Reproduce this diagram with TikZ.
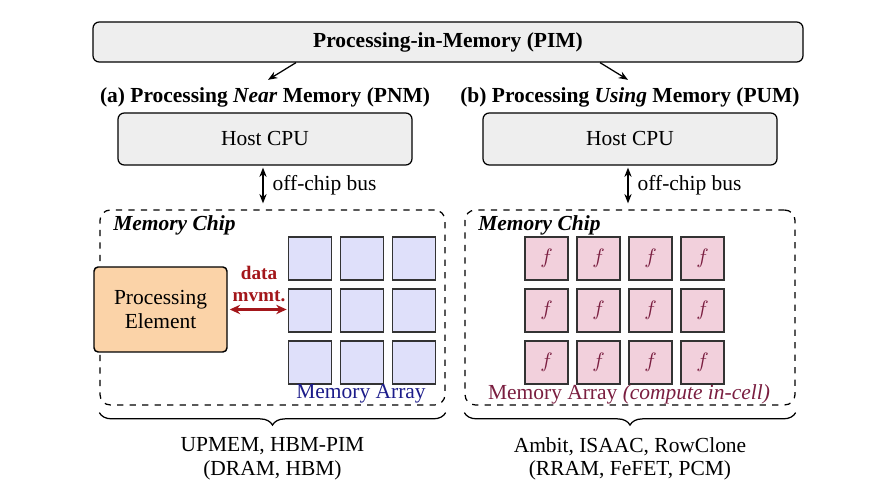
\documentclass[tikz,border=0pt]{standalone}
\usepackage{fontspec}
\setmainfont{Liberation Serif}
\usepackage{tikz}
\usetikzlibrary{arrows.meta, positioning, calc, decorations.pathreplacing}

\definecolor{boxgray}{HTML}{EEEEEE}
\definecolor{peorange}{HTML}{FBD3A8}
\definecolor{cellblue}{HTML}{DFE0FA}
\definecolor{cellpink}{HTML}{F2D0DC}
\definecolor{mvred}{HTML}{A3161A}
\definecolor{arrblue}{HTML}{1C1C8A}
\definecolor{arrpink}{HTML}{7A1E40}

\begin{document}
\begin{tikzpicture}[x=0.48pt, y=-0.48pt,
  every node/.style={font=\fontsize{10.3}{11.2}\selectfont},
  graybox/.style={draw=black, fill=boxgray, rounded corners=3pt, line width=0.6pt},
  chipbox/.style={draw=black, dashed, rounded corners=5pt, line width=0.6pt, minimum width=#1*0.48pt, minimum height=195*0.48pt},
  cellbox/.style={draw=black!80, line width=0.85pt, minimum size=43*0.48pt, inner sep=0pt},
  arr/.style={-{Stealth[length=4.5pt, width=3.5pt]}, line width=0.6pt},
  darr/.style={{Stealth[length=4.5pt, width=3.5pt]}-{Stealth[length=4.5pt, width=3.5pt]}, line width=0.6pt},
  brace/.style={decorate, decoration={brace, mirror, amplitude=6pt}, line width=0.6pt}]
\useasboundingbox (0,0) rectangle (876,493);

% top level
\node[graybox, minimum width=710*0.48pt, minimum height=40*0.48pt] (pim) at (448,42) {\textbf{Processing-in-Memory (PIM)}};
\node (pnm) at (265,97) {\textbf{(a) Processing \textit{Near} Memory (PNM)}};
\node (pum) at (630,97) {\textbf{(b) Processing \textit{Using} Memory (PUM)}};
\draw[arr] (pim.south -| 296,0) -- (pnm.north -| 268,0);
\draw[arr] (pim.south -| 600,0) -- (pum.north -| 628,0);

% host CPUs
\node[graybox, minimum width=294*0.48pt, minimum height=52*0.48pt] (hostL) at (265,139) {Host CPU};
\node[graybox, minimum width=294*0.48pt, minimum height=52*0.48pt] (hostR) at (630,139) {Host CPU};

% memory chips
\node[chipbox=345] (chipL) at (272.5,307.5) {};
\node[chipbox=330] (chipR) at (630,307.5) {};
\node[anchor=west] (labL) at (106,225) {\textbf{\textit{Memory Chip}}};
\node[anchor=west] (labR) at (471,225) {\textbf{\textit{Memory Chip}}};

\draw[darr] ($(hostL.south)+(-2,2)$) -- ($(hostL.south |- chipL.north)+(-2,-6)$) node[midway, right=1pt] {off-chip bus};
\draw[darr] ($(hostR.south)+(-2,2)$) -- ($(hostR.south |- chipR.north)+(-2,-6)$) node[midway, right=1pt] {off-chip bus};

% (a) near memory
\node[draw=black, fill=peorange, rounded corners=2pt, line width=0.7pt, minimum width=133*0.48pt, minimum height=85*0.48pt, align=center] (pe) at (160.5,309.5) {Processing\\Element};
\foreach \r/\y in {1/258.5, 2/310.5, 3/362.5}
  \foreach \c/\x in {1/310, 2/362, 3/414}
    \node[cellbox, fill=cellblue] (a\r\c) at (\x,\y) {};
\draw[{Stealth[length=5pt, width=4.5pt]}-{Stealth[length=5pt, width=4.5pt]}, mvred, line width=1.1pt] ($(pe.east)+(2,0)$) -- ($(pe.east -| a21.west)+(-1,0)$);
\node[text=mvred, align=center, font=\fontsize{9.2}{10.2}\selectfont\bfseries] (mv) at (259,284) {data\\mvmt.};
\node[text=arrblue] (arrL) at (361,394) {Memory Array};

% (b) using memory
\foreach \r/\y in {1/258.5, 2/310.5, 3/362.5}
  \foreach \c/\x in {1/546.5, 2/598.5, 3/650.5, 4/702.5}
    \node[cellbox, fill=cellpink, text=arrpink] (b\r\c) at (\x,\y) {$f$};
\node[text=arrpink] (arrR) at (629,394) {Memory Array \textit{(compute in-cell)}};

% examples
\draw[brace] ($(chipL.south west)+(0,7)$) -- ($(chipL.south east)+(0,7)$) coordinate[midway] (bL);
\draw[brace] ($(chipR.south west)+(0,7)$) -- ($(chipR.south east)+(0,7)$) coordinate[midway] (bR);
\node[align=center, below=8.5pt of bL] (exL) {UPMEM, HBM-PIM\\(DRAM, HBM)};
\node[align=center, below=8.5pt of bR] (exR) {Ambit, ISAAC, RowClone\\(RRAM, FeFET, PCM)};
\end{tikzpicture}
\end{document}
